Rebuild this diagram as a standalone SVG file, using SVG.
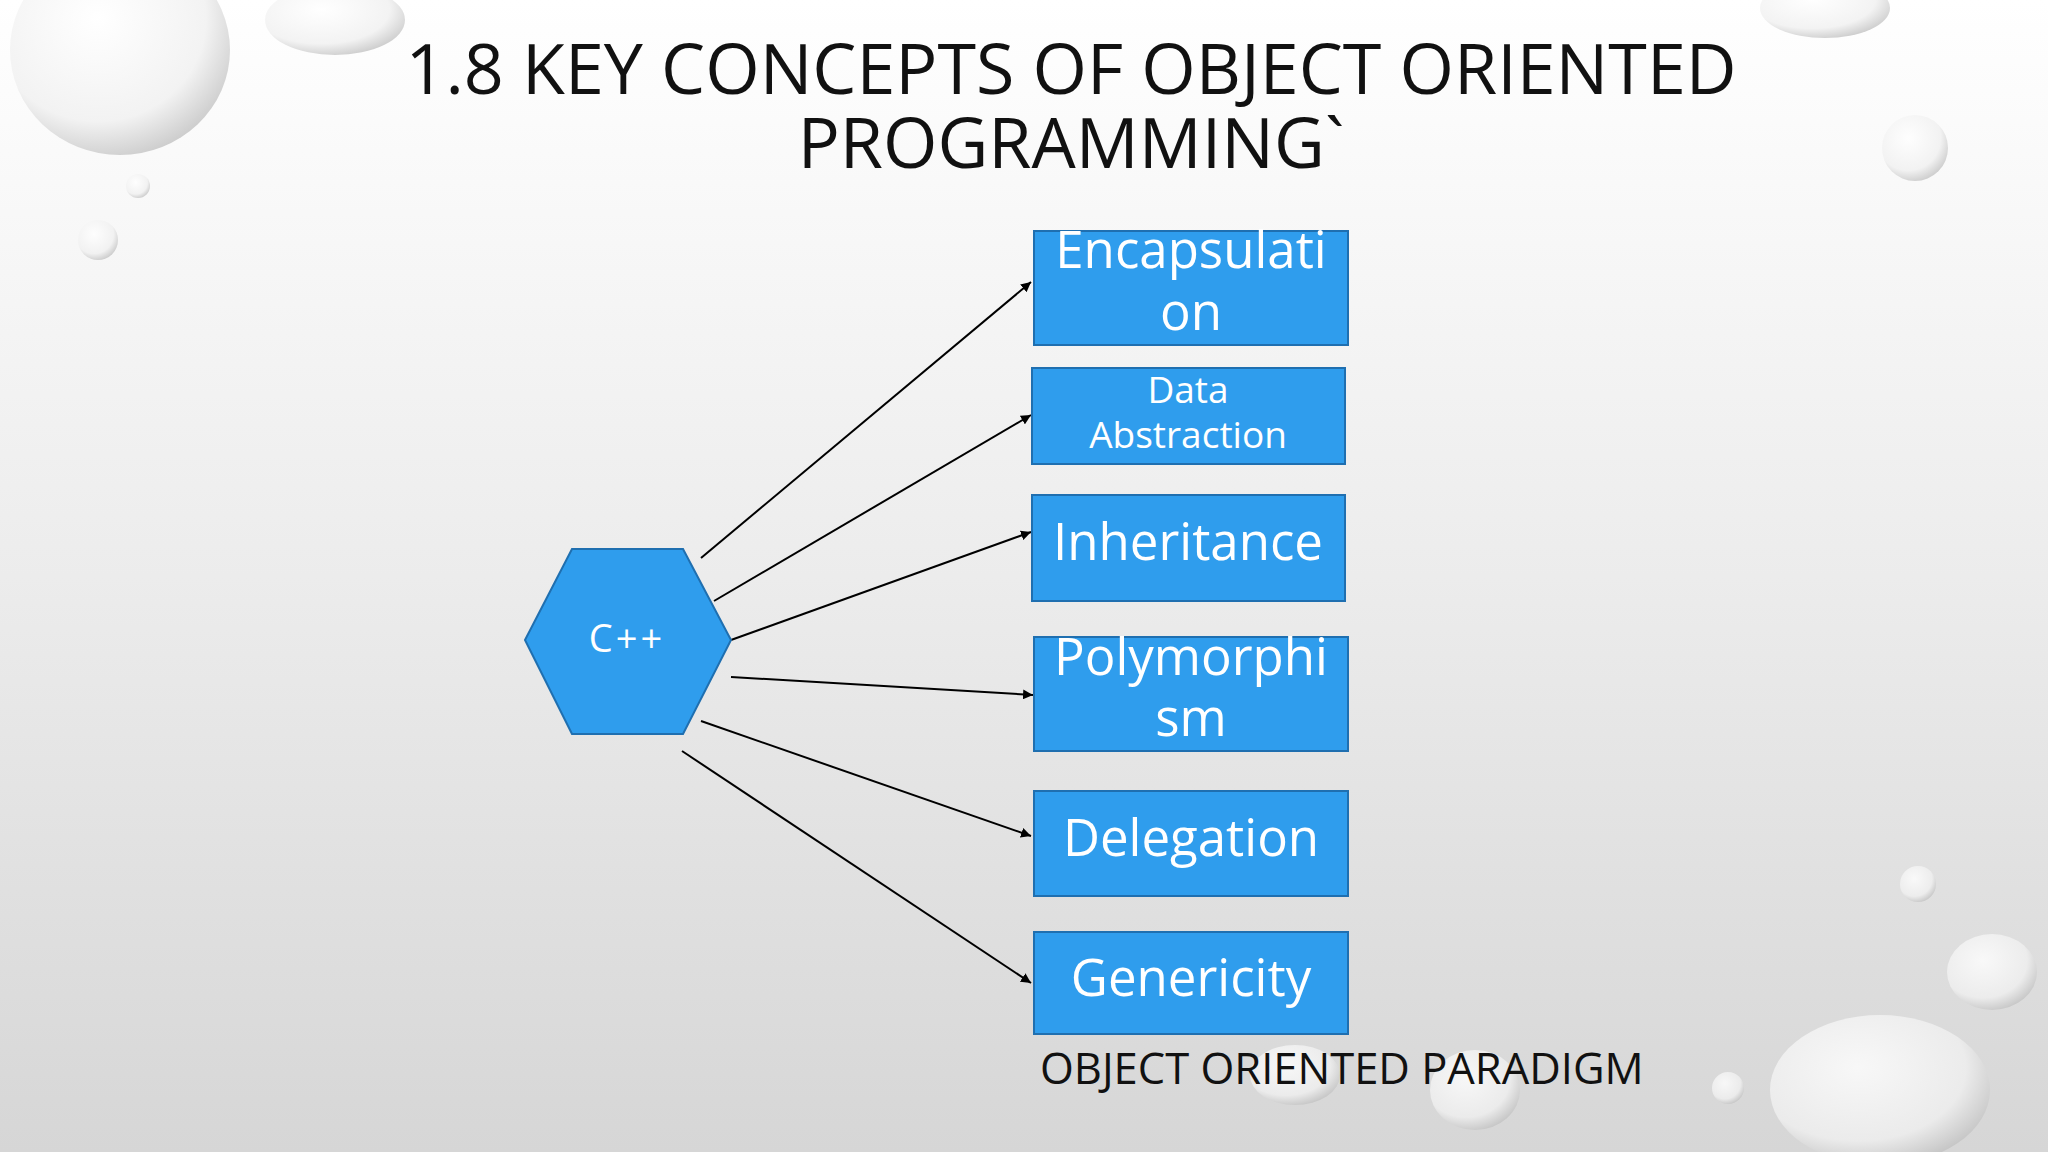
<svg xmlns="http://www.w3.org/2000/svg" width="2048" height="1152" viewBox="0 0 2048 1152">
<defs>
<linearGradient id="bg" x1="0" y1="0" x2="0" y2="1"><stop offset="0" stop-color="#ffffff"/><stop offset="0.5" stop-color="#ececec"/><stop offset="1" stop-color="#d6d6d6"/></linearGradient>
<radialGradient id="drop" cx="0.4" cy="0.35" r="0.7"><stop offset="0" stop-color="#ffffff"/><stop offset="0.7" stop-color="#f0f0f0"/><stop offset="1" stop-color="#bdbdbd"/></radialGradient>
<marker id="ah" viewBox="0 0 10 10" refX="10" refY="5" markerWidth="10" markerHeight="10" markerUnits="userSpaceOnUse" orient="auto"><path d="M0,0 L10,5 L0,10 z" fill="#000"/></marker>
</defs>
<style>
.box{fill:#2f9ded;stroke:#1f6fb0;stroke-width:2}
.t{font-family:"Open Sans","DejaVu Sans",sans-serif;fill:#fff;text-anchor:middle}
.c{stroke:#000;stroke-width:2;fill:none;marker-end:url(#ah)}
.d{fill:url(#drop);opacity:0.8}
</style>
<rect width="2048" height="1152" fill="url(#bg)"/>
<g id="drops">
<ellipse class="d" cx="120" cy="50" rx="110" ry="105"/>
<ellipse class="d" cx="335" cy="20" rx="70" ry="35"/>
<circle class="d" cx="98" cy="240" r="20"/>
<circle class="d" cx="138" cy="186" r="12"/>
<circle class="d" cx="1915" cy="148" r="33"/>
<ellipse class="d" cx="1825" cy="8" rx="65" ry="30"/>
<circle class="d" cx="1918" cy="884" r="18"/>
<ellipse class="d" cx="1992" cy="972" rx="45" ry="38"/>
<ellipse class="d" cx="1880" cy="1090" rx="110" ry="75"/>
<ellipse class="d" cx="1475" cy="1090" rx="45" ry="40"/>
<ellipse class="d" cx="1295" cy="1075" rx="45" ry="30"/>
<circle class="d" cx="1728" cy="1088" r="16"/>
</g>
<g id="title" font-family="Open Sans,'DejaVu Sans',sans-serif" font-size="70" fill="#111" text-anchor="middle">
<text x="1071" y="94">1.8 KEY CONCEPTS OF OBJECT ORIENTED</text>
<text x="1071" y="168">PROGRAMMING`</text>
</g>
<g id="connectors">
<line class="c" x1="701" y1="558" x2="1031" y2="282"/>
<line class="c" x1="714" y1="601" x2="1031" y2="415"/>
<line class="c" x1="731" y1="640" x2="1031" y2="532"/>
<line class="c" x1="731" y1="677" x2="1033" y2="695"/>
<line class="c" x1="701" y1="721" x2="1031" y2="836"/>
<line class="c" x1="682" y1="751" x2="1031" y2="983"/>
</g>
<g id="cpp"><polygon class="box" points="525,640 572,549 683,549 731,640 683,734 572,734"/><text class="t" x="627" y="652" font-size="38" letter-spacing="3">C++</text></g>
<g id="encapsulation"><rect class="box" x="1034" y="231" width="314" height="114"/><text class="t" x="1191" y="268" font-size="51">Encapsulati</text><text class="t" x="1191" y="330" font-size="51">on</text></g>
<g id="data-abstraction"><rect class="box" x="1032" y="368" width="313" height="96"/><text class="t" x="1188" y="403" font-size="37">Data</text><text class="t" x="1188" y="448" font-size="37">Abstraction</text></g>
<g id="inheritance"><rect class="box" x="1032" y="495" width="313" height="106"/><text class="t" x="1188" y="560" font-size="51">Inheritance</text></g>
<g id="polymorphism"><rect class="box" x="1034" y="637" width="314" height="114"/><text class="t" x="1191" y="675" font-size="51">Polymorphi</text><text class="t" x="1191" y="736" font-size="51">sm</text></g>
<g id="delegation"><rect class="box" x="1034" y="791" width="314" height="105"/><text class="t" x="1191" y="856" font-size="51">Delegation</text></g>
<g id="genericity"><rect class="box" x="1034" y="932" width="314" height="102"/><text class="t" x="1191" y="996" font-size="51">Genericity</text></g>
<text x="1040" y="1084" font-family="Open Sans,'DejaVu Sans',sans-serif" font-size="43.5" fill="#111">OBJECT ORIENTED PARADIGM</text>
</svg>
